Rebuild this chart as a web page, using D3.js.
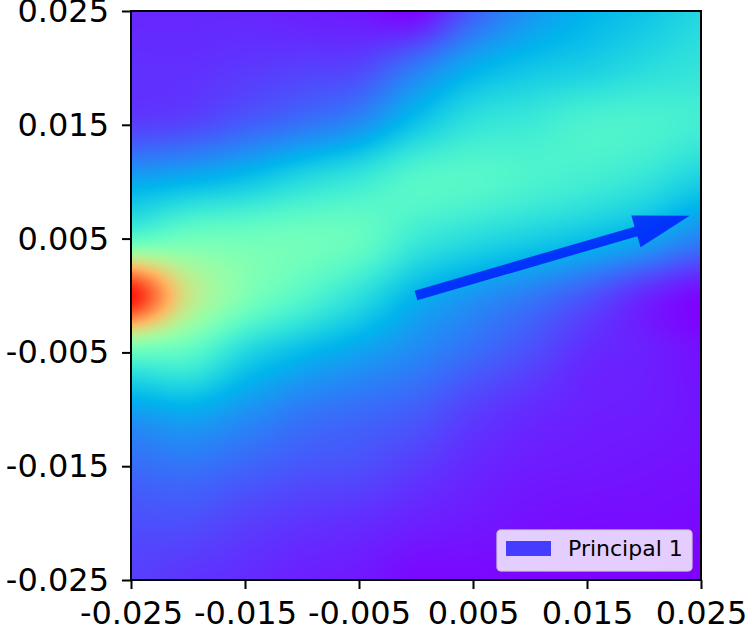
<!DOCTYPE html>
<html>
<head>
<meta charset="utf-8">
<script src="https://cdn.jsdelivr.net/npm/d3@7"></script>
<style>
  html, body { margin: 0; padding: 0; background: #fff; }
  svg { display: block; font-family: "DejaVu Sans", sans-serif; }
</style>
</head>
<body>
<svg id="chart" width="748" height="640"></svg>
<script>
// grid coordinates of the loss surface
const gridX = [-0.025, -0.02, -0.015, -0.01, -0.005, 0, 0.005, 0.01, 0.015, 0.02, 0.025];
const gridY = [0.025, 0.02, 0.015, 0.01, 0.005, 0, -0.005, -0.01, -0.015, -0.02, -0.025];

// surface values, one row per gridY (top to bottom)
const lossRows = [
  [0.05, 0.05, 0.05, 0.04, 0.03, 0.01, 0.12, 0.20, 0.25, 0.28, 0.32],
  [0.06, 0.06, 0.07, 0.08, 0.09, 0.16, 0.24, 0.28, 0.30, 0.33, 0.35],
  [0.08, 0.09, 0.12, 0.15, 0.19, 0.28, 0.35, 0.37, 0.40, 0.40, 0.38],
  [0.23, 0.25, 0.28, 0.33, 0.37, 0.42, 0.42, 0.40, 0.38, 0.35, 0.30],
  [0.43, 0.47, 0.47, 0.47, 0.45, 0.37, 0.33, 0.30, 0.27, 0.23, 0.17],
  [0.97, 0.65, 0.50, 0.42, 0.34, 0.25, 0.20, 0.16, 0.11, 0.05, 0.01],
  [0.45, 0.43, 0.32, 0.26, 0.22, 0.18, 0.14, 0.10, 0.055, 0.04, 0.02],
  [0.22, 0.24, 0.20, 0.16, 0.14, 0.12, 0.08, 0.055, 0.04, 0.035, 0.025],
  [0.14, 0.15, 0.13, 0.11, 0.10, 0.075, 0.05, 0.035, 0.03, 0.025, 0.02],
  [0.10, 0.10, 0.08, 0.065, 0.055, 0.04, 0.03, 0.02, 0.015, 0.015, 0.01],
  [0.08, 0.065, 0.055, 0.04, 0.03, 0.01, 0.01, 0.005, 0.005, 0.005, 0.0]
];

const xTicks = [-0.025, -0.015, -0.005, 0.005, 0.015, 0.025];
const yTicks = [-0.025, -0.015, -0.005, 0.005, 0.015, 0.025];

// principal direction arrow: start and displacement
const arrowStart = [0, 0];
const arrowDelta = [0.024, 0.007];
const legendLabels = ["Principal 1"];

const margin = {left: 131, top: 11};
const W = 570, H = 569;

const svg = d3.select("#chart");

const x = d3.scaleLinear().domain([-0.025, 0.025]).range([0, W]);
const y = d3.scaleLinear().domain([-0.025, 0.025]).range([H, 0]);

// matplotlib "rainbow"
function rainbow(t) {
  t = Math.max(0, Math.min(1, t));
  const r = Math.min(1, Math.abs(2 * t - 0.5));
  const g = Math.sin(Math.PI * t);
  const b = Math.cos(Math.PI * t / 2);
  return [r * 255, g * 255, b * 255];
}
const color = d3.scaleLinear().domain([0, 1]).range([0, 1]).clamp(true);

// bicubic (catmull-rom) lookup in the grid
const nx = gridX.length, ny = gridY.length;
const gx = d3.scaleLinear().domain([gridX[0], gridX[nx - 1]]).range([0, nx - 1]);
const gy = d3.scaleLinear().domain([gridY[0], gridY[ny - 1]]).range([0, ny - 1]);
function val(i, j) {
  i = Math.max(0, Math.min(nx - 1, i));
  j = Math.max(0, Math.min(ny - 1, j));
  return lossRows[j][i];
}
function cr(p0, p1, p2, p3, t) {
  return p1 + 0.5 * t * (p2 - p0 + t * (2 * p0 - 5 * p1 + 4 * p2 - p3 + t * (3 * (p1 - p2) + p3 - p0)));
}
function sample(dx, dy) {
  let fx = Math.max(0, Math.min(nx - 1, gx(dx)));
  let fy = Math.max(0, Math.min(ny - 1, gy(dy)));
  let i0 = Math.min(Math.floor(fx), nx - 2), j0 = Math.min(Math.floor(fy), ny - 2);
  let tx = fx - i0, ty = fy - j0;
  const rows = [];
  for (let k = -1; k <= 2; k++) {
    const j = j0 + k;
    rows.push(cr(val(i0 - 1, j), val(i0, j), val(i0 + 1, j), val(i0 + 2, j), tx));
  }
  return cr(rows[0], rows[1], rows[2], rows[3], ty);
}

const canvas = document.createElement("canvas");
canvas.width = W; canvas.height = H;
const ctx = canvas.getContext("2d");
const img = ctx.createImageData(W, H);
for (let py = 0; py < H; py++) {
  for (let px = 0; px < W; px++) {
    const v = sample(x.invert(px + 0.5), y.invert(py + 0.5));
    const rgb = rainbow(color(v));
    const k = (py * W + px) * 4;
    img.data[k] = rgb[0]; img.data[k + 1] = rgb[1]; img.data[k + 2] = rgb[2]; img.data[k + 3] = 255;
  }
}
ctx.putImageData(img, 0, 0);

const g = svg.append("g").attr("transform", `translate(${margin.left},${margin.top})`);

g.append("image")
  .attr("x", 0).attr("y", 0)
  .attr("width", W).attr("height", H)
  .attr("preserveAspectRatio", "none")
  .attr("href", canvas.toDataURL());

// arrow (like plt.arrow with length_includes_head)
const shaftW = 0.00088, headW = 0.0029, headL = 0.0049;
(function drawArrow() {
  const p0 = [x(arrowStart[0]), y(arrowStart[1])];
  const p1 = [x(arrowStart[0] + arrowDelta[0]), y(arrowStart[1] + arrowDelta[1])];
  const len = Math.hypot(p1[0] - p0[0], p1[1] - p0[1]);
  const u = [(p1[0] - p0[0]) / len, (p1[1] - p0[1]) / len];
  const n = [-u[1], u[0]];
  const sw = (x(shaftW) - x(0)) / 2, hw = (x(headW) - x(0)) / 2, hl = x(headL) - x(0);
  const neck = [p1[0] - u[0] * hl, p1[1] - u[1] * hl];
  const pts = [
    [p0[0] + n[0] * sw, p0[1] + n[1] * sw],
    [neck[0] + n[0] * sw, neck[1] + n[1] * sw],
    [neck[0] + n[0] * hw, neck[1] + n[1] * hw],
    p1,
    [neck[0] - n[0] * hw, neck[1] - n[1] * hw],
    [neck[0] - n[0] * sw, neck[1] - n[1] * sw],
    [p0[0] - n[0] * sw, p0[1] - n[1] * sw]
  ];
  g.append("polygon")
    .attr("points", pts.map(p => p.join(",")).join(" "))
    .attr("fill", "#0000ff")
    .attr("fill-opacity", 0.7);
})();

// axes
const fmt = d => d3.format(".3f")(d).replace("−", "-");
const xAxis = g.append("g").attr("transform", `translate(0,${H})`)
  .call(d3.axisBottom(x).tickValues(xTicks).tickFormat(fmt).tickSize(9).tickPadding(6));
const yAxis = g.append("g")
  .call(d3.axisLeft(y).tickValues(yTicks).tickFormat(fmt).tickSize(9).tickPadding(13));
[xAxis, yAxis].forEach(a => {
  a.select(".domain").remove();
  a.selectAll(".tick line").attr("stroke", "#000").attr("stroke-width", 2);
  a.selectAll(".tick text").attr("fill", "#000").style("font-size", "32px")
    .style("font-family", "DejaVu Sans, sans-serif");
});
xAxis.selectAll(".tick text").attr("dy", null).attr("y", 44);
yAxis.selectAll(".tick text").attr("dy", "0.33em");

g.append("rect")
  .attr("x", 0).attr("y", 0).attr("width", W).attr("height", H)
  .attr("fill", "none").attr("stroke", "#000").attr("stroke-width", 2);

// legend
const leg = g.append("g").attr("transform", `translate(${W - 204},${H - 50})`);
leg.append("rect")
  .attr("x", 0).attr("y", 0).attr("width", 195).attr("height", 41)
  .attr("rx", 4).attr("ry", 4)
  .attr("fill", "#fff").attr("fill-opacity", 0.8)
  .attr("stroke", "#ccc").attr("stroke-opacity", 0.8).attr("stroke-width", 1.5);
legendLabels.forEach((lab, i) => {
  leg.append("rect")
    .attr("x", 9).attr("y", 11 + i * 30).attr("width", 45).attr("height", 15)
    .attr("fill", "#0000ff").attr("fill-opacity", 0.7);
  leg.append("text")
    .attr("x", 71).attr("y", 26 + i * 30)
    .style("font-size", "22px").attr("fill", "#000")
    .text(lab);
});
</script>
</body>
</html>
